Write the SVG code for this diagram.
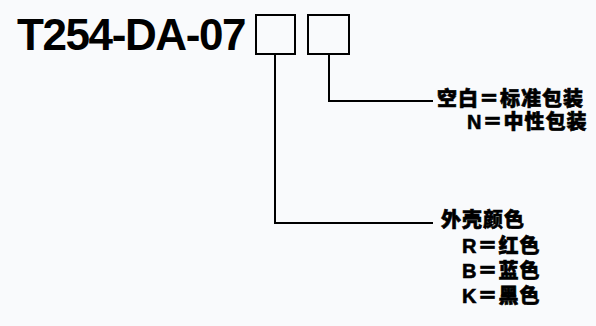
<svg xmlns="http://www.w3.org/2000/svg" width="596" height="326" viewBox="0 0 596 326">
<style>
.t{font-family:"Liberation Sans","Noto Sans CJK SC",sans-serif;font-weight:900;fill:#000}
.l{font-size:20px;letter-spacing:1px;stroke:#000;stroke-width:0.6}
.box{fill:none;stroke:#000;stroke-width:2}
.c{fill:none;stroke:#000;stroke-width:2}
</style>
<rect width="596" height="326" fill="#f9fafc"/>
<g id="title">
<text class="t" x="17" y="50" font-size="44" letter-spacing="-1.4" font-weight="bold">T254-DA-07</text>
</g>
<g id="box1"><rect class="box" x="256" y="15" width="39" height="39"/></g>
<g id="box2"><rect class="box" x="308" y="15" width="41" height="39"/></g>
<g id="connectors">
<polyline class="c" points="329,54 329,101 433,101"/>
<polyline class="c" points="275,54 275,223 433,223"/>
</g>
<g id="packaging">
<text class="t l" x="437" y="106">空白＝标准包装</text>
<text class="t l" x="467" y="129">N＝中性包装</text>
</g>
<g id="color">
<text class="t l" x="441" y="227">外壳颜色</text>
<text class="t l" x="462" y="253">R＝红色</text>
<text class="t l" x="462" y="278">B＝蓝色</text>
<text class="t l" x="462" y="303">K＝黑色</text>
</g>
</svg>
